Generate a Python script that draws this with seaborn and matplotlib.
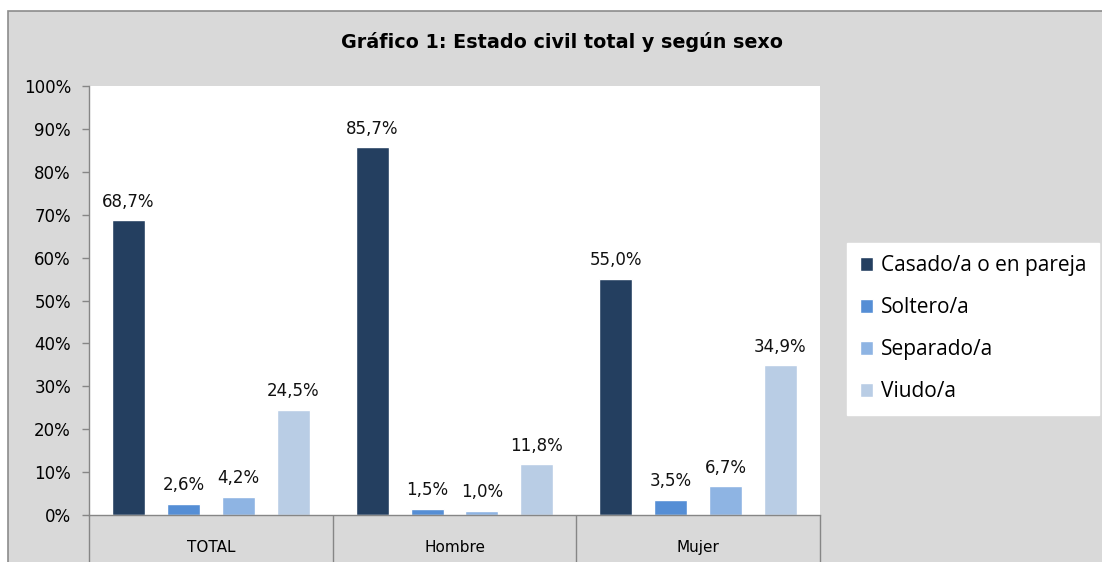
import matplotlib
matplotlib.use("Agg")
import matplotlib.pyplot as plt
import seaborn as sns
import pandas as pd
from matplotlib.patches import Rectangle

categorias = ["TOTAL", "Hombre", "Mujer"]
estados = ["Casado/a o en pareja", "Soltero/a", "Separado/a", "Viudo/a"]
casado = [68.7, 85.7, 55.0]
soltero = [2.6, 1.5, 3.5]
separado = [4.2, 1.0, 6.7]
viudo = [24.5, 11.8, 34.9]
colores = ["#243f60", "#558ed5", "#8eb4e3", "#b9cde5"]
y_ticks = list(range(0, 101, 10))

rows = []
for serie, valores in zip(estados, [casado, soltero, separado, viudo]):
    for cat, v in zip(categorias, valores):
        rows.append({"grupo": cat, "estado": serie, "pct": v})
df = pd.DataFrame(rows)

sns.set_theme(style="white")
plt.rcParams["font.family"] = ["DejaVu Sans"]
plt.rcParams["text.color"] = "black"
plt.rcParams["xtick.labelcolor"] = "black"
plt.rcParams["ytick.labelcolor"] = "black"

W, H = 1102, 562
fig = plt.figure(figsize=(W / 100, H / 100), dpi=100, facecolor="white")
fig.patches.append(Rectangle((8 / W, -0.01), 1.1, 1.01 - 11 / H, transform=fig.transFigure,
                             facecolor="#d9d9d9", edgecolor="#8c8c8c", lw=1.2, zorder=-1))

ax = fig.add_axes([89 / W, 47 / H, (820 - 89) / W, (515 - 86) / H])
ax.set_facecolor("white")
sns.barplot(data=df, x="grupo", y="pct", hue="estado", palette=colores,
            width=0.9, gap=0.4, saturation=1, ax=ax, order=categorias, hue_order=estados)

for cont in ax.containers:
    labels = [f"{v:.1f}%".replace(".", ",") for v in cont.datavalues]
    ax.bar_label(cont, labels=labels, padding=7, fontsize=12, color="#111111")

ax.set_ylim(0, 100)
ax.set_yticks(y_ticks)
ax.set_yticklabels([f"{t}%" for t in y_ticks], fontsize=12)
ax.set_xlim(-0.5, 2.5)
ax.set_xticks(range(len(categorias)))
ax.set_xticklabels(categorias, fontsize=11)
ax.set_xticks([-0.5, 0.5, 1.5, 2.5], minor=True)
ax.tick_params(axis="x", which="major", length=0, pad=18)
ax.tick_params(axis="x", which="minor", bottom=True, length=34, width=1,
               color="#868686", direction="out")
ax.tick_params(axis="y", left=True, length=5, width=1, color="#868686",
               direction="out", pad=8)
ax.set_xlabel("")
ax.set_ylabel("")
for s in ["top", "right"]:
    ax.spines[s].set_visible(False)
for s in ["left", "bottom"]:
    ax.spines[s].set_color("#868686")
    ax.spines[s].set_linewidth(1)

handles, labs = ax.get_legend_handles_labels()
ax.legend_.remove()
leg = fig.legend(handles, labs, loc="upper left", bbox_to_anchor=(847 / W, 1 - 243 / H),
                 frameon=True, fancybox=False, edgecolor="white", facecolor="white",
                 framealpha=1, handlelength=0.65, handleheight=0.65, handletextpad=0.4,
                 labelspacing=1.0, borderpad=0.6, borderaxespad=0,
                 prop={"family": "Open Sans", "size": 15})
for t in leg.get_texts():
    t.set_color("black")

fig.text(562 / W, 1 - 42 / H, "Gráfico 1: Estado civil total y según sexo",
         ha="center", va="center", fontsize=13.8, fontweight="bold", color="black")

fig.savefig("out.png", dpi=100)
